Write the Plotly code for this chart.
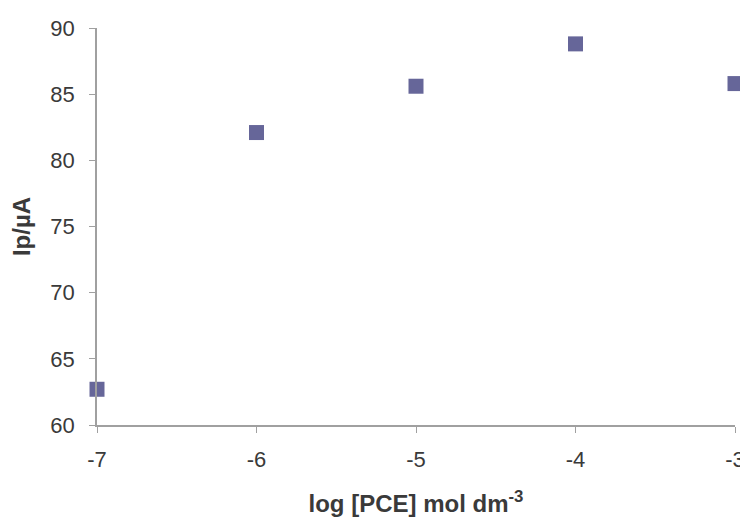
import plotly.graph_objects as go

log_conc = [-7, -6, -5, -4, -3]
ip_uA = [62.7, 82.1, 85.6, 88.8, 85.8]
x_ticks = [-7, -6, -5, -4, -3]
y_ticks = [60, 65, 70, 75, 80, 85, 90]

FONT = "Liberation Sans, Arial"
TXT = "#3a3a3a"

fig = go.Figure()
fig.add_trace(go.Scatter(
    x=log_conc, y=ip_uA, mode="markers",
    marker=dict(symbol="square", size=15, color="#666699"),
    cliponaxis=False,
))

axis_common = dict(
    showgrid=False, zeroline=False, showline=True, linecolor="#a0a0a0", linewidth=1.5,
    ticks="outside", ticklen=6, tickcolor="#a0a0a0", automargin=False,
    tickfont=dict(family=FONT, size=22, color=TXT),
)

# page body adds an 8px offset, so the figure is 740x514
fig.update_layout(
    width=740, height=514,
    margin=dict(l=89, r=13, t=20, b=97),
    paper_bgcolor="white", plot_bgcolor="white",
    showlegend=False,
    xaxis=dict(range=[-7, -3], tickvals=x_ticks, ticktext=[str(v) for v in x_ticks],
               ticklabelstandoff=8,
               title=dict(text="<b>log [PCE] mol dm<sup>-3</sup></b>", standoff=24,
                          font=dict(family=FONT, size=24, color=TXT)),
               **axis_common),
    yaxis=dict(range=[60, 90], tickvals=y_ticks, ticklabelstandoff=10,
               title=dict(text="<b>Ip/µA</b>", standoff=18,
                          font=dict(family=FONT, size=24, color=TXT)),
               **axis_common),
)

fig.write_html("out.html")
